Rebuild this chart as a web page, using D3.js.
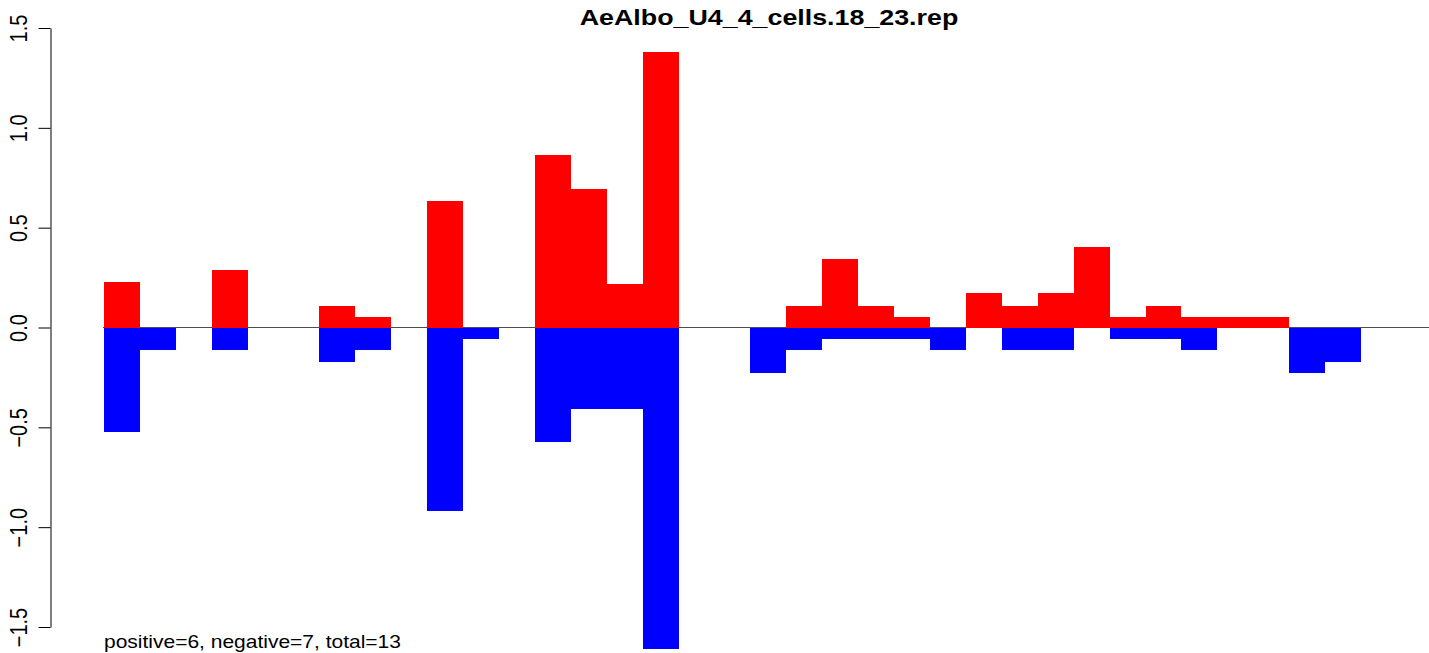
<!DOCTYPE html>
<html>
<head>
<meta charset="utf-8">
<script src="https://cdn.jsdelivr.net/npm/d3@7"></script>
<style>
  html, body { margin: 0; padding: 0; background: #fff; }
  svg { display: block; }
  text { font-family: "Liberation Sans", Arial, Helvetica, sans-serif; fill: #000; }
</style>
</head>
<body>
<svg id="chart" width="1429" height="653"></svg>
<script>
// ---- data ----
const title = "AeAlbo_U4_4_cells.18_23.rep";
const footnote = "positive=6, negative=7, total=13";
const positions = d3.range(1, 36);
const positiveValues = [0.226, 0, 0, 0.286, 0, 0, 0.11, 0.055, 0, 0.632, 0, 0, 0.862, 0.692, 0.22, 1.378, 0, 0,
  0, 0.11, 0.341, 0.11, 0.055, 0, 0.172, 0.11, 0.172, 0.402, 0.055, 0.11, 0.055, 0.055, 0.055, 0, 0];
const negativeValues = [-0.521, -0.114, 0, -0.114, 0, 0, -0.175, -0.114, 0, -0.917, -0.058, 0, -0.575, -0.406, -0.406, -1.612, 0, 0,
  -0.229, -0.112, -0.06, -0.06, -0.06, -0.114, 0, -0.114, -0.114, 0, -0.058, -0.058, -0.114, 0, 0, -0.229, -0.174];
const yTicks = [-1.5, -1.0, -0.5, 0.0, 0.5, 1.0, 1.5];

// ---- layout ----
const W = 1429, H = 653;
const svg = d3.select("#chart");

const x = d3.scaleBand().domain(positions).range([104, 1361]).padding(0);
const y = d3.scaleLinear().domain([-1.5, 1.5]).range([627, 28]);

// zero line (under bars)
svg.append("line")
  .attr("x1", 103).attr("x2", W)
  .attr("y1", y(0)).attr("y2", y(0))
  .attr("stroke", "#4d4d4d").attr("stroke-width", 1);

// positive bars
svg.append("g").selectAll("rect")
  .data(positions.map((p, i) => ({p, v: positiveValues[i]})).filter(d => d.v > 0))
  .join("rect")
  .attr("x", d => x(d.p))
  .attr("width", x.bandwidth())
  .attr("y", d => y(d.v))
  .attr("height", d => y(0) - y(d.v))
  .attr("fill", "#ff0000")
  .attr("shape-rendering", "crispEdges");

// negative bars
svg.append("g").selectAll("rect")
  .data(positions.map((p, i) => ({p, v: negativeValues[i]})).filter(d => d.v < 0))
  .join("rect")
  .attr("x", d => x(d.p))
  .attr("width", x.bandwidth())
  .attr("y", y(0))
  .attr("height", d => y(d.v) - y(0))
  .attr("fill", "#0000ff")
  .attr("shape-rendering", "crispEdges");

// y axis
const axis = d3.axisLeft(y)
  .tickValues(yTicks)
  .tickSize(12)
  .tickSizeOuter(0)
  .tickFormat(d3.format(".1f"));
const gAxis = svg.append("g")
  .attr("transform", "translate(50.5,0)")
  .call(axis);
gAxis.select(".domain").attr("stroke", "#000").attr("stroke-width", 1);
gAxis.selectAll(".tick line").attr("stroke", "#000").attr("stroke-width", 1);
gAxis.selectAll(".tick text")
  .attr("x", null).attr("dy", null).attr("y", null)
  .attr("text-anchor", "middle")
  .attr("font-size", 20)
  .attr("font-family", "Liberation Sans, Arial, sans-serif")
  .attr("fill", "#000")
  .attr("transform", "translate(-23.5,0) scale(1.18,1) rotate(-90)");

// title
svg.append("text")
  .attr("transform", "translate(769,25) scale(1.22,1)")
  .attr("text-anchor", "middle")
  .attr("font-weight", "bold")
  .attr("font-size", 22)
  .text(title);

// footnote
svg.append("text")
  .attr("transform", "translate(104,648) scale(1.2,1)")
  .attr("text-anchor", "start")
  .attr("font-size", 17.5)
  .text(footnote);
</script>
</body>
</html>
